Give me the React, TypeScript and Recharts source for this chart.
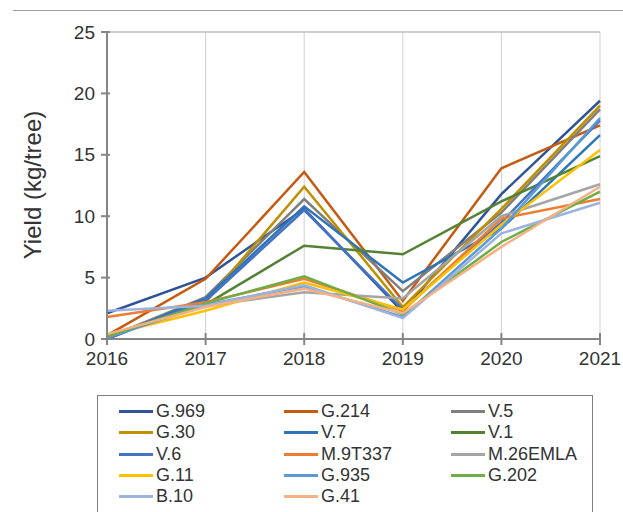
import React from "react";
import {
	LineChart,
	Line,
	XAxis,
	YAxis,
	CartesianGrid,
	ReferenceLine,
} from "recharts";

const years = [2016, 2017, 2018, 2019, 2020, 2021];
const yTicks = [0, 5, 10, 15, 20, 25];

const rootstocks = [
	"G.969",
	"G.214",
	"V.5",
	"G.30",
	"V.7",
	"V.1",
	"V.6",
	"M.9T337",
	"M.26EMLA",
	"G.11",
	"G.935",
	"G.202",
	"B.10",
	"G.41",
];

// yield (kg/tree) per year, 2016..2021
const g969 = [2.1, 5.0, 10.6, 2.2, 11.8, 19.4];
const g214 = [0.3, 4.9, 13.6, 3.1, 13.9, 17.4];
const v5 = [0.1, 3.4, 11.4, 3.9, 10.3, 18.7];
const g30 = [0.2, 3.0, 12.4, 2.6, 10.6, 19.0];
const v7 = [0.0, 3.3, 10.8, 4.6, 9.0, 16.6];
const v1 = [0.2, 2.8, 7.6, 6.9, 11.2, 14.9];
const v6 = [0.0, 3.1, 10.5, 2.4, 9.5, 17.8];
const m9t337 = [1.8, 3.0, 4.9, 2.3, 9.8, 11.4];
const m26emla = [0.2, 2.7, 3.8, 3.3, 10.0, 12.6];
const g11 = [0.3, 2.3, 4.6, 2.4, 9.3, 15.4];
const g935 = [0.1, 2.8, 4.3, 1.8, 9.0, 18.0];
const g202 = [0.2, 2.9, 5.1, 2.0, 7.9, 12.0];
const b10 = [2.3, 2.7, 4.4, 1.7, 8.6, 11.1];
const g41 = [0.4, 2.6, 4.1, 2.1, 7.5, 12.4];

const seriesValues = [
	g969, g214, v5, g30, v7, v1, v6, m9t337, m26emla, g11, g935, g202, b10, g41,
];

const colors = [
	"#2F5597",
	"#C55A11",
	"#7F7F7F",
	"#BF9000",
	"#2E75B6",
	"#548235",
	"#4472C4",
	"#ED7D31",
	"#A5A5A5",
	"#FFC000",
	"#5B9BD5",
	"#70AD47",
	"#9DB3DF",
	"#F4B183",
];

const rows = years.map((year, i) => {
	const row: Record<string, number> = { year };
	rootstocks.forEach((name, s) => {
		row[name] = seriesValues[s][i];
	});
	return row;
});

const FONT = '"Liberation Sans", Arial, sans-serif';
const TEXT = "#333333";
const AXIS = "#868686";

function YTick(props: any) {
	const { x, y, payload } = props;
	return (
		<g>
			<line x1={x - 6} x2={x + 3} y1={y} y2={y} stroke={AXIS} strokeWidth={2} />
			<text
				x={x - 12}
				y={y}
				dy="0.35em"
				textAnchor="end"
				fontSize={19}
				fontFamily={FONT}
				fill={TEXT}
			>
				{payload.value}
			</text>
		</g>
	);
}

function XTick(props: any) {
	const { x, y, payload } = props;
	return (
		<g>
			<line x1={x} x2={x} y1={y - 6} y2={y + 6} stroke={AXIS} strokeWidth={2} />
			<text
				x={x}
				y={y + 26}
				textAnchor="middle"
				fontSize={19}
				fontFamily={FONT}
				fill={TEXT}
			>
				{payload.value}
			</text>
		</g>
	);
}

function Legend() {
	return (
		<div
			style={{
				position: "absolute",
				left: 97,
				top: 395,
				width: 496,
				height: 140,
				border: "1px solid #7F7F7F",
				boxSizing: "border-box",
				paddingLeft: 21,
				paddingTop: 5,
				display: "grid",
				gridTemplateColumns: "165px 167px 1fr",
				gridAutoRows: "21.3px",
				fontFamily: FONT,
				fontSize: 18,
				color: TEXT,
			}}
		>
			{rootstocks.map((name, s) => (
				<div key={name} style={{ display: "flex", alignItems: "center" }}>
					<span
						style={{
							display: "inline-block",
							width: 34,
							height: 3,
							background: colors[s],
							marginRight: 3,
						}}
					/>
					<span>{name}</span>
				</div>
			))}
		</div>
	);
}

export default function App() {
	return (
		<div
			style={{
				position: "absolute",
				left: 0,
				top: 0,
				width: 623,
				height: 512,
				overflow: "hidden",
				background: "#fff",
			}}
		>
			<div
				style={{
					position: "absolute",
					left: 13,
					top: 10,
					width: 610,
					borderTop: "1px solid #A0A0A0",
				}}
			/>
			<LineChart
				width={623}
				height={512}
				data={rows}
				margin={{ top: 32, right: 23, left: 47, bottom: 143 }}
			>
				<CartesianGrid vertical horizontal={false} stroke="#D0D0D0" />
				<ReferenceLine y={25} stroke="#BFBFBF" strokeWidth={1.5} />
				<XAxis
					dataKey="year"
					type="number"
					domain={[2016, 2021]}
					ticks={years}
					tickSize={0}
					tickMargin={0}
					tickLine={false}
					axisLine={{ stroke: AXIS, strokeWidth: 2 }}
					tick={<XTick />}
					height={30}
					interval={0}
				/>
				<YAxis
					type="number"
					domain={[0, 25]}
					ticks={yTicks}
					tickSize={0}
					tickMargin={0}
					tickLine={false}
					axisLine={{ stroke: AXIS, strokeWidth: 2 }}
					tick={<YTick />}
					width={60}
					interval={0}
					label={{
						content: () => (
							<text
								x={32}
								y={185}
								transform="rotate(-90 32 185)"
								textAnchor="middle"
								dominantBaseline="central"
								fontSize={24}
								fontFamily={FONT}
								fill={TEXT}
							>
								Yield (kg/tree)
							</text>
						),
					}}
				/>
				{rootstocks.map((name, s) => (
					<Line
						key={name}
						dataKey={name}
						stroke={colors[s]}
						strokeWidth={2.5}
						dot={false}
						type="linear"
						isAnimationActive={false}
					/>
				))}
			</LineChart>
			<Legend />
		</div>
	);
}
